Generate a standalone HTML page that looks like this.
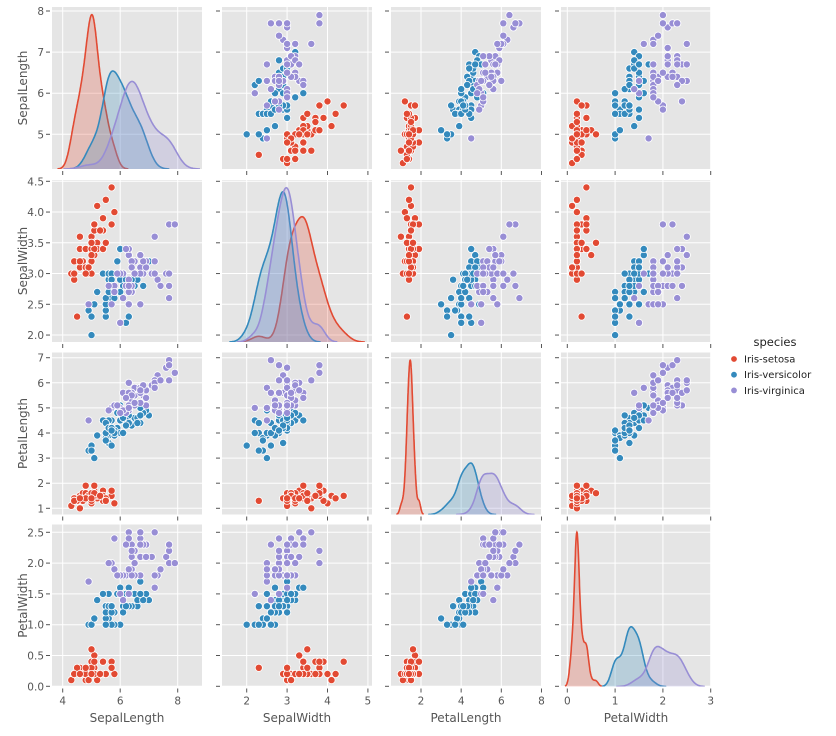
<!DOCTYPE html>
<html><head><meta charset="utf-8"><style>
body{margin:0;background:#fff;}
svg text{font-family:"DejaVu Sans","Liberation Sans",sans-serif;fill:#555;}
</style></head><body>
<svg id="s" width="836" height="731" xmlns="http://www.w3.org/2000/svg"></svg>
<script>
const S=`5.1,3.5,1.4,0.2;4.9,3.0,1.4,0.2;4.7,3.2,1.3,0.2;4.6,3.1,1.5,0.2;5.0,3.6,1.4,0.2;5.4,3.9,1.7,0.4;4.6,3.4,1.4,0.3;5.0,3.4,1.5,0.2;4.4,2.9,1.4,0.2;4.9,3.1,1.5,0.1;5.4,3.7,1.5,0.2;4.8,3.4,1.6,0.2;4.8,3.0,1.4,0.1;4.3,3.0,1.1,0.1;5.8,4.0,1.2,0.2;5.7,4.4,1.5,0.4;5.4,3.9,1.3,0.4;5.1,3.5,1.4,0.3;5.7,3.8,1.7,0.3;5.1,3.8,1.5,0.3;5.4,3.4,1.7,0.2;5.1,3.7,1.5,0.4;4.6,3.6,1.0,0.2;5.1,3.3,1.7,0.5;4.8,3.4,1.9,0.2;5.0,3.0,1.6,0.2;5.0,3.4,1.6,0.4;5.2,3.5,1.5,0.2;5.2,3.4,1.4,0.2;4.7,3.2,1.6,0.2;4.8,3.1,1.6,0.2;5.4,3.4,1.5,0.4;5.2,4.1,1.5,0.1;5.5,4.2,1.4,0.2;4.9,3.1,1.5,0.1;5.0,3.2,1.2,0.2;5.5,3.5,1.3,0.2;4.9,3.1,1.5,0.1;4.4,3.0,1.3,0.2;5.1,3.4,1.5,0.2;5.0,3.5,1.3,0.3;4.5,2.3,1.3,0.3;4.4,3.2,1.3,0.2;5.0,3.5,1.6,0.6;5.1,3.8,1.9,0.4;4.8,3.0,1.4,0.3;5.1,3.8,1.6,0.2;4.6,3.2,1.4,0.2;5.3,3.7,1.5,0.2;5.0,3.3,1.4,0.2`;
const V=`7.0,3.2,4.7,1.4;6.4,3.2,4.5,1.5;6.9,3.1,4.9,1.5;5.5,2.3,4.0,1.3;6.5,2.8,4.6,1.5;5.7,2.8,4.5,1.3;6.3,3.3,4.7,1.6;4.9,2.4,3.3,1.0;6.6,2.9,4.6,1.3;5.2,2.7,3.9,1.4;5.0,2.0,3.5,1.0;5.9,3.0,4.2,1.5;6.0,2.2,4.0,1.0;6.1,2.9,4.7,1.4;5.6,2.9,3.6,1.3;6.7,3.1,4.4,1.4;5.6,3.0,4.5,1.5;5.8,2.7,4.1,1.0;6.2,2.2,4.5,1.5;5.6,2.5,3.9,1.1;5.9,3.2,4.8,1.8;6.1,2.8,4.0,1.3;6.3,2.5,4.9,1.5;6.1,2.8,4.7,1.2;6.4,2.9,4.3,1.3;6.6,3.0,4.4,1.4;6.8,2.8,4.8,1.4;6.7,3.0,5.0,1.7;6.0,2.9,4.5,1.5;5.7,2.6,3.5,1.0;5.5,2.4,3.8,1.1;5.5,2.4,3.7,1.0;5.8,2.7,3.9,1.2;6.0,2.7,5.1,1.6;5.4,3.0,4.5,1.5;6.0,3.4,4.5,1.6;6.7,3.1,4.7,1.5;6.3,2.3,4.4,1.3;5.6,3.0,4.1,1.3;5.5,2.5,4.0,1.3;5.5,2.6,4.4,1.2;6.1,3.0,4.6,1.4;5.8,2.6,4.0,1.2;5.0,2.3,3.3,1.0;5.6,2.7,4.2,1.3;5.7,3.0,4.2,1.2;5.7,2.9,4.2,1.3;6.2,2.9,4.3,1.3;5.1,2.5,3.0,1.1;5.7,2.8,4.1,1.3`;
const G=`6.3,3.3,6.0,2.5;5.8,2.7,5.1,1.9;7.1,3.0,5.9,2.1;6.3,2.9,5.6,1.8;6.5,3.0,5.8,2.2;7.6,3.0,6.6,2.1;4.9,2.5,4.5,1.7;7.3,2.9,6.3,1.8;6.7,2.5,5.8,1.8;7.2,3.6,6.1,2.5;6.5,3.2,5.1,2.0;6.4,2.7,5.3,1.9;6.8,3.0,5.5,2.1;5.7,2.5,5.0,2.0;5.8,2.8,5.1,2.4;6.4,3.2,5.3,2.3;6.5,3.0,5.5,1.8;7.7,3.8,6.7,2.2;7.7,2.6,6.9,2.3;6.0,2.2,5.0,1.5;6.9,3.2,5.7,2.3;5.6,2.8,4.9,2.0;7.7,2.8,6.7,2.0;6.3,2.7,4.9,1.8;6.7,3.3,5.7,2.1;7.2,3.2,6.0,1.8;6.2,2.8,4.8,1.8;6.1,3.0,4.9,1.8;6.4,2.8,5.6,2.1;7.2,3.0,5.8,1.6;7.4,2.8,6.1,1.9;7.9,3.8,6.4,2.0;6.4,2.8,5.6,2.2;6.3,2.8,5.1,1.5;6.1,2.6,5.6,1.4;7.7,3.0,6.1,2.3;6.3,3.4,5.6,2.4;6.4,3.1,5.5,1.8;6.0,3.0,4.8,1.8;6.9,3.1,5.4,2.1;6.7,3.1,5.6,2.4;6.9,3.1,5.1,2.3;5.8,2.7,5.1,1.9;6.8,3.2,5.9,2.3;6.7,3.3,5.7,2.5;6.7,3.0,5.2,2.3;6.3,2.5,5.0,1.9;6.5,3.0,5.2,2.0;6.2,3.4,5.4,2.3;5.9,3.0,5.1,1.8`;
const groups=[S,V,G].map(t=>t.split(';').map(r=>r.split(',').map(Number)));
const cols=['#E24A33','#348ABD','#988ED5'];
const names=['SepalLength','SepalWidth','PetalLength','PetalWidth'];
const L=[52,222,391,561],W=150,T=[7,180,352.5,524.5],H=162;
const fx=[v=>62.7+(v-4)*28.75,v=>246.7+(v-2)*40.4,v=>421+(v-2)*20.08,v=>567.3+v*47.8];
const fy=[v=>11+(8-v)*41.1,v=>181.3+(4.5-v)*61.5,v=>357.7+(7-v)*25.1,v=>686.3-v*61.6];
const xt=[[4,6,8],[2,3,4,5],[2,4,6,8],[0,1,2,3]];
const yt=[[[5,'5'],[6,'6'],[7,'7'],[8,'8']],[[2,'2.0'],[2.5,'2.5'],[3,'3.0'],[3.5,'3.5'],[4,'4.0'],[4.5,'4.5']],[[1,'1'],[2,'2'],[3,'3'],[4,'4'],[5,'5'],[6,'6'],[7,'7']],[[0,'0.0'],[0.5,'0.5'],[1,'1.0'],[1.5,'1.5'],[2,'2.0'],[2.5,'2.5']]];
let o='<defs>';
for(let r=0;r<4;r++)for(let c=0;c<4;c++)o+=`<clipPath id="c${r}${c}"><rect x="${L[c]}" y="${T[r]}" width="${W}" height="${H}"/></clipPath>`;
o+='</defs>';
function kde(d){const n=d.length,m=d.reduce((a,b)=>a+b)/n,sd=Math.sqrt(d.reduce((a,b)=>a+(b-m)**2,0)/(n-1)),bw=sd*Math.pow(n,-0.2);
const lo=Math.min(...d)-3*bw,hi=Math.max(...d)+3*bw,pts=[];for(let i=0;i<200;i++){const x=lo+(hi-lo)*i/199;let s=0;for(const v of d)s+=Math.exp(-0.5*((x-v)/bw)**2);pts.push([x,s/(n*bw*Math.sqrt(2*Math.PI))/3]);}return pts;}
for(let r=0;r<4;r++)for(let c=0;c<4;c++){
 const l=L[c],t=T[r],b=t+H;
 o+=`<rect x="${l}" y="${t}" width="${W}" height="${H}" fill="#E5E5E5"/>`;
 for(const v of xt[c]){const x=fx[c](v);o+=`<line x1="${x}" x2="${x}" y1="${t}" y2="${b}" stroke="#fff" stroke-width="1"/><line x1="${x}" x2="${x}" y1="${b+2}" y2="${b+6}" stroke="#555" stroke-width="1"/>`;if(r==3)o+=`<text x="${x}" y="${b+18}" font-size="10.5" text-anchor="middle">${v}</text>`;}
 for(const [v,s] of yt[r]){const y=fy[r](v);o+=`<line x1="${l}" x2="${l+W}" y1="${y}" y2="${y}" stroke="#fff" stroke-width="1"/><line x1="${l-6}" x2="${l-2}" y1="${y}" y2="${y}" stroke="#555" stroke-width="1"/>`;if(c==0)o+=`<text x="${l-8}" y="${y+4}" font-size="10.5" text-anchor="end">${s}</text>`;}
 o+=`<g clip-path="url(#c${r}${c})">`;
 if(r==c){const ks=groups.map(g=>kde(g.map(p=>p[c])));const mx=Math.max(...ks.flat().map(p=>p[1]))*1.05;
  ks.forEach((k,i)=>{const pts=k.map(p=>`${fx[c](p[0]).toFixed(1)},${(b-p[1]/mx*H).toFixed(1)}`);
  o+=`<polygon points="${fx[c](k[0][0]).toFixed(1)},${b} ${pts.join(' ')} ${fx[c](k[k.length-1][0]).toFixed(1)},${b}" fill="${cols[i]}" fill-opacity="0.25"/><polyline points="${pts.join(' ')}" fill="none" stroke="${cols[i]}" stroke-width="1.6"/>`;});
 }else{groups.forEach((g,i)=>{for(const p of g)o+=`<circle cx="${fx[c](p[c]).toFixed(1)}" cy="${fy[r](p[r]).toFixed(1)}" r="3.6" fill="${cols[i]}" stroke="#fff" stroke-width="0.8"/>`;});}
 o+='</g>';
}
for(let c=0;c<4;c++)o+=`<text x="${L[c]+W/2}" y="722" font-size="12" text-anchor="middle">${names[c]}</text>`;
for(let r=0;r<4;r++){const y=T[r]+H/2;o+=`<text transform="translate(27,${y}) rotate(-90)" font-size="12" text-anchor="middle">${names[r]}</text>`;}
o+=`<text x="775" y="346" font-size="11.5" text-anchor="middle" style="fill:#222">species</text>`;
['Iris-setosa','Iris-versicolor','Iris-virginica'].forEach((n,i)=>{const y=359+i*15.7;o+=`<circle cx="734" cy="${y}" r="3.3" fill="${cols[i]}" stroke="#fff" stroke-width="0.8"/><text x="744" y="${y+3.5}" font-size="10" style="fill:#222">${n}</text>`;});
document.getElementById('s').innerHTML=o;
</script>
</body></html>
